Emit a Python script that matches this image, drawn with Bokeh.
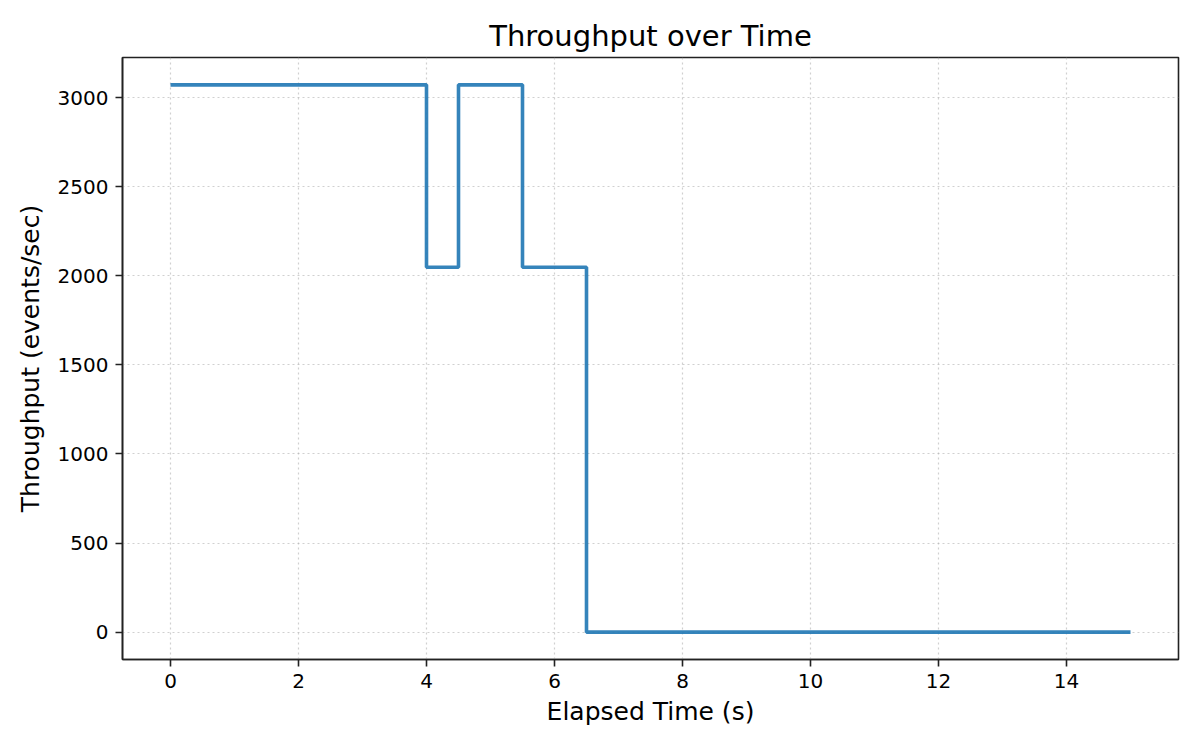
from bokeh.embed import file_html
from bokeh.models import ColumnDataSource, FixedTicker, Range1d
from bokeh.plotting import figure
from bokeh.resources import INLINE

# change points of the throughput series (step "post")
elapsed_s = [0, 4, 4.5, 5.5, 6.5, 15]
events_per_sec = [3072, 2048, 3072, 2048, 0, 0]

x_ticks = [0, 2, 4, 6, 8, 10, 12, 14]
y_ticks = [0, 500, 1000, 1500, 2000, 2500, 3000]

FONT = "DejaVu Sans"

src = ColumnDataSource(dict(t=elapsed_s, v=events_per_sec))

# matplotlib-like 5% padding around the data
x_pad = 0.05 * (max(elapsed_s) - min(elapsed_s))
y_pad = 0.05 * (max(events_per_sec) - min(events_per_sec))

p = figure(
    title="Throughput over Time",
    frame_width=1056,
    frame_height=602,
    min_border_left=122,
    min_border_right=6,
    min_border_top=57,
    min_border_bottom=75,
    x_range=Range1d(min(elapsed_s) - x_pad, max(elapsed_s) + x_pad),
    y_range=Range1d(min(events_per_sec) - y_pad, max(events_per_sec) + y_pad),
    output_backend="svg",
    toolbar_location=None,
)

p.step("t", "v", source=src, mode="after", line_width=3.6, line_color="#1f77b4", line_alpha=0.9)

# ---------- title ----------
p.title.align = "center"
p.title.text_font = FONT
p.title.text_font_size = "29px"
p.title.text_font_style = "normal"
p.title.text_color = "black"
p.title.standoff = 10

# ---------- frame / grid ----------
p.outline_line_color = "#222222"
p.outline_line_width = 1.6
p.outline_line_alpha = 1.0
p.background_fill_color = "white"
p.border_fill_color = "white"

for g in (p.xgrid, p.ygrid):
    g.grid_line_color = "#b0b0b0"
    g.grid_line_alpha = 0.6
    g.grid_line_dash = "2 3"
    g.grid_line_width = 1.2

p.xaxis.ticker = FixedTicker(ticks=x_ticks)
p.yaxis.ticker = FixedTicker(ticks=y_ticks)
p.xgrid.ticker = FixedTicker(ticks=x_ticks)
p.ygrid.ticker = FixedTicker(ticks=y_ticks)

# ---------- axes ----------
p.xaxis.axis_label = "Elapsed Time (s)"
p.yaxis.axis_label = "Throughput (events/sec)"
for ax in (p.xaxis, p.yaxis):
    ax.axis_line_color = "#222222"
    ax.axis_line_width = 1.6
    ax.major_tick_line_color = "#222222"
    ax.major_tick_line_width = 1.6
    ax.major_tick_out = 7
    ax.major_tick_in = 0
    ax.minor_tick_line_color = None
    ax.major_label_text_font = FONT
    ax.major_label_text_font_size = "20px"
    ax.major_label_text_color = "black"
    ax.major_label_standoff = 7
    ax.axis_label_text_font = FONT
    ax.axis_label_text_font_size = "25px"
    ax.axis_label_text_font_style = "normal"
    ax.axis_label_text_color = "black"
p.xaxis.axis_label_standoff = 6
p.yaxis.axis_label_standoff = 10

open("out.html", "w").write(file_html(p, INLINE))
